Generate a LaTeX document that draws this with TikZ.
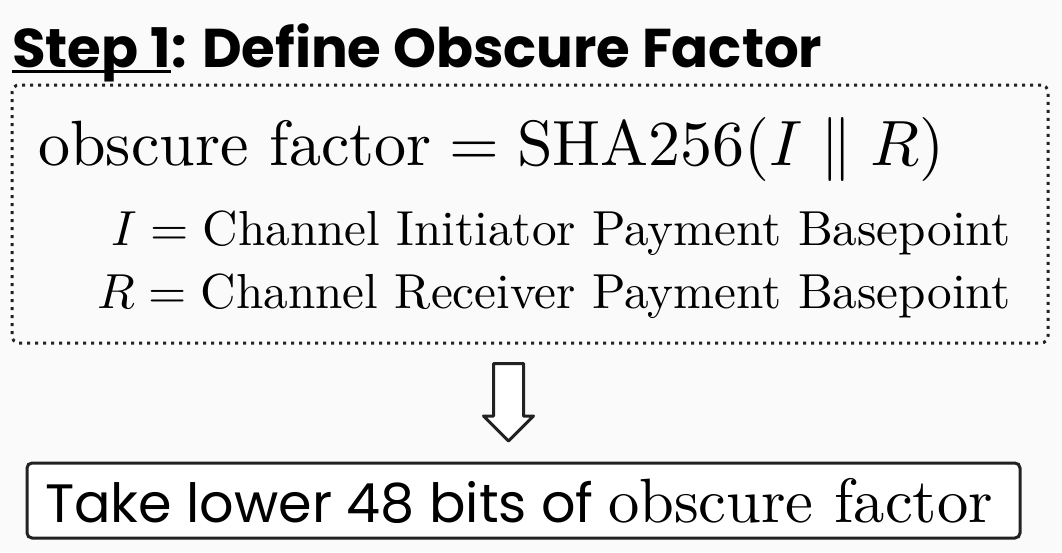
\documentclass[tikz,border=0pt]{standalone}
\usepackage{fix-cm}
\DeclareFontShape{OT1}{cmr}{m}{n}{<->cmr10}{}
\DeclareFontShape{OML}{cmm}{m}{it}{<->cmmi10}{}
\DeclareFontShape{OMS}{cmsy}{m}{n}{<->cmsy10}{}
\usepackage{amsmath}
\usepackage{fontspec}
\setmainfont{lmroman10-regular}[Extension=.otf, ItalicFont=lmroman10-italic, BoldFont=lmroman10-bold]
\newfontfamily\headfont{Poppins}
\usetikzlibrary{calc}
\definecolor{pagebg}{HTML}{FAFAFA}
\definecolor{inkgray}{HTML}{222222}

\begin{document}
\begin{tikzpicture}[x=1pt, y=-1pt,
    dotbox/.style={draw=inkgray, line width=3pt, dash pattern=on 3pt off 5pt, rounded corners=7pt, inner sep=0pt},
    resultbox/.style={draw=inkgray, fill=white, line width=3pt, rounded corners=5pt, inner sep=0pt},
    hollowarrow/.style={draw=inkgray, fill=white, line width=3pt, line join=round},
    titlefont/.style={font=\headfont\bfseries\fontsize{54.6}{60}\selectfont}]
  \useasboundingbox[fill=pagebg] (0,0) rectangle (1062,552);

  % title
  \node[titlefont, anchor=base west, inner sep=0pt] (stepno) at (12,67) {Step 1};
  \node[titlefont, anchor=base west, inner sep=0pt] (steptitle) at (stepno.base east) {: Define Obscure Factor};
  \draw[line width=3pt] ([yshift=-4pt]stepno.base west) -- ([yshift=-4pt]stepno.base east);

  % definition box
  \node[dotbox, minimum width=1036pt, minimum height=258pt] (factorbox) at (530,214) {};
  \node[anchor=base west, inner sep=0pt, font=\fontsize{64}{70}\selectfont] (sharule) at (38,165)
    {$\text{obscure factor} = \text{SHA256}(I \parallel R)$};
  \node[anchor=base east, inner sep=0pt, font=\fontsize{49.2}{55}\selectfont] (initline) at (1011,245)
    {$I = \text{Channel Initiator Payment Basepoint}$};
  \node[anchor=base east, inner sep=0pt, font=\fontsize{49.2}{55}\selectfont] (recvline) at (1011,308)
    {$R = \text{Channel Receiver Payment Basepoint}$};

  % result box
  \node[resultbox, minimum width=993pt, minimum height=75pt] (lowerbox) at (523.5,500.5) {};
  \node[anchor=base west, inner sep=0pt] (lowertext) at (45,522)
    {{\headfont\fontsize{54}{60}\selectfont Take lower 48 bits of }{\fontsize{62.6}{68}\selectfont obscure factor}};

  % arrow
  \coordinate (atop) at (508.5,363.5);
  \coordinate (atip) at (508.5,441);
  \draw[hollowarrow] ($(atop)+(-15,0)$) -- ($(atop)+(15,0)$) -- ($(atip)+(15,-25)$)
    -- ($(atip)+(25,-25)$) -- (atip) -- ($(atip)+(-25,-25)$) -- ($(atip)+(-15,-25)$) -- cycle;
\end{tikzpicture}
\end{document}
